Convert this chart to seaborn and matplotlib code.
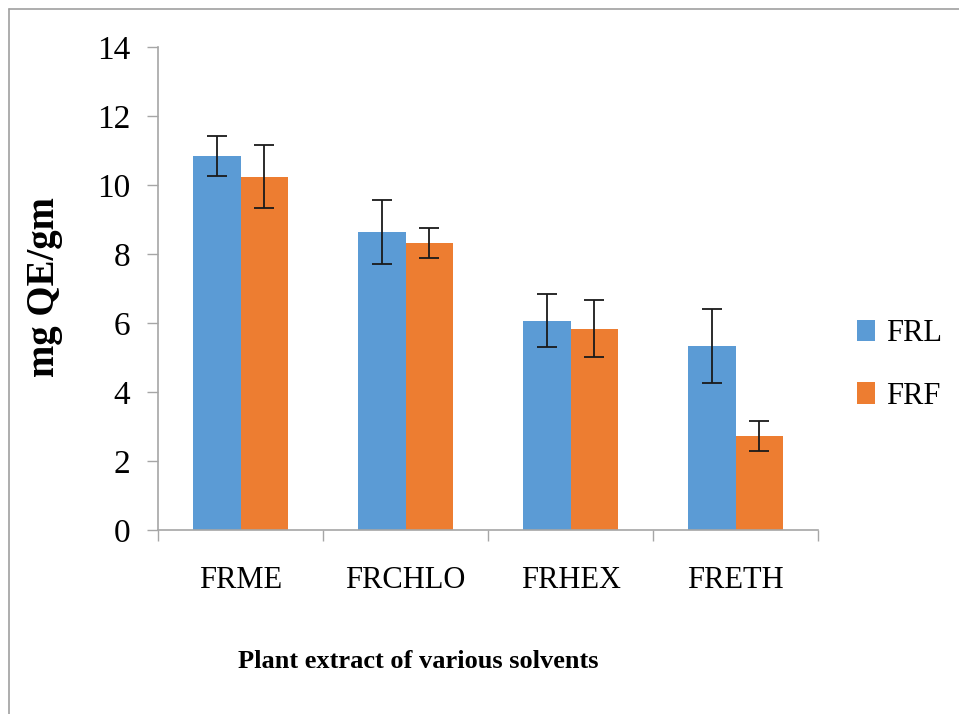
import pandas as pd
import numpy as np
import seaborn as sns
import matplotlib.pyplot as plt
from matplotlib.lines import Line2D

# flavonoid content per solvent extract
solvents = ['FRME', 'FRCHLO', 'FRHEX', 'FRETH']
frl_vals = [10.84, 8.64, 6.07, 5.33]
frl_err = [0.59, 0.93, 0.76, 1.08]
frf_vals = [10.24, 8.31, 5.84, 2.72]
frf_err = [0.92, 0.44, 0.83, 0.43]
series_names = ['FRL', 'FRF']
y_ticks = [0, 2, 4, 6, 8, 10, 12, 14]

df = pd.DataFrame({
    'solvent': solvents * 2,
    'value': frl_vals + frf_vals,
    'err': frl_err + frf_err,
    'sample': [series_names[0]] * len(solvents) + [series_names[1]] * len(solvents),
})

sns.set_theme(style="white")
plt.rcParams['font.family'] = ['Liberation Serif', 'DejaVu Serif']
plt.rcParams['text.color'] = 'black'
plt.rcParams['axes.labelcolor'] = 'black'
plt.rcParams['xtick.color'] = 'black'
plt.rcParams['ytick.color'] = 'black'
axis_grey = '#A6A6A6'

fig = plt.figure(figsize=(9.59, 7.14), dpi=100)
ax = fig.add_axes([158/959, 1 - 530/714, 660/959, 483/714])

sns.barplot(data=df, x='solvent', y='value', hue='sample', order=solvents,
            hue_order=series_names, palette=['#5B9BD5', '#ED7D31'],
            width=0.57, errorbar=None, saturation=1, linewidth=0, ax=ax)

# error bars on top of each bar, positions taken from the drawn bars
for cont, name in zip(ax.containers, series_names):
    sub = df[df['sample'] == name]
    xs = [b.get_x() + b.get_width()/2 for b in cont]
    ax.errorbar(xs, sub['value'].values, yerr=sub['err'].values, fmt='none',
                ecolor='#1a1a1a', elinewidth=1.3, capsize=7, capthick=1.3, zorder=5)

ax.set_ylim(0, 14)
ax.set_xlim(-0.5, len(solvents) - 0.5)
ax.set_yticks(y_ticks)
ax.set_yticklabels([str(t) for t in y_ticks], fontsize=24)
ax.set_xticks(np.arange(-0.5, len(solvents), 1.0))
ax.set_xticklabels([])
ax.set_xticks(np.arange(len(solvents)), minor=True)
ax.set_xticklabels(solvents, minor=True, fontsize=22)
ax.tick_params(axis='x', which='minor', length=0, pad=26)
ax.tick_params(axis='x', which='major', length=8, width=1, color=axis_grey, direction='out')
ax.tick_params(axis='y', length=8, width=1, color=axis_grey, direction='out', pad=12)
ax.tick_params(axis='both', which='both', bottom=True, left=True)

for side in ['top', 'right']:
    ax.spines[side].set_visible(False)
for side in ['left', 'bottom']:
    ax.spines[side].set_color(axis_grey)
    ax.spines[side].set_linewidth(1.2)

ax.set_xlabel('Plant extract of various solvents', fontsize=19, fontweight='bold')
ax.set_ylabel('mg QE/gm', fontsize=28, fontweight='bold')
ax.xaxis.set_label_coords(0.394, -0.248)
ax.yaxis.set_label_coords(-0.144, 0.503)

leg = ax.legend(loc='center left', bbox_to_anchor=(857/959, 1 - 365/714),
                bbox_transform=fig.transFigure, frameon=False, fontsize=22,
                handlelength=0.6, handleheight=0.7, handletextpad=0.35,
                labelspacing=1.1, borderpad=0, borderaxespad=0)

# thin frame line on the left and top edges
fig.add_artist(Line2D([9/959, 9/959], [0, 1 - 9/714], color='#A0A0A0', lw=1.2))
fig.add_artist(Line2D([9/959, 1], [1 - 9/714, 1 - 9/714], color='#A0A0A0', lw=1.2))

plt.savefig('out.png', dpi=100, facecolor='white')
plt.close()
